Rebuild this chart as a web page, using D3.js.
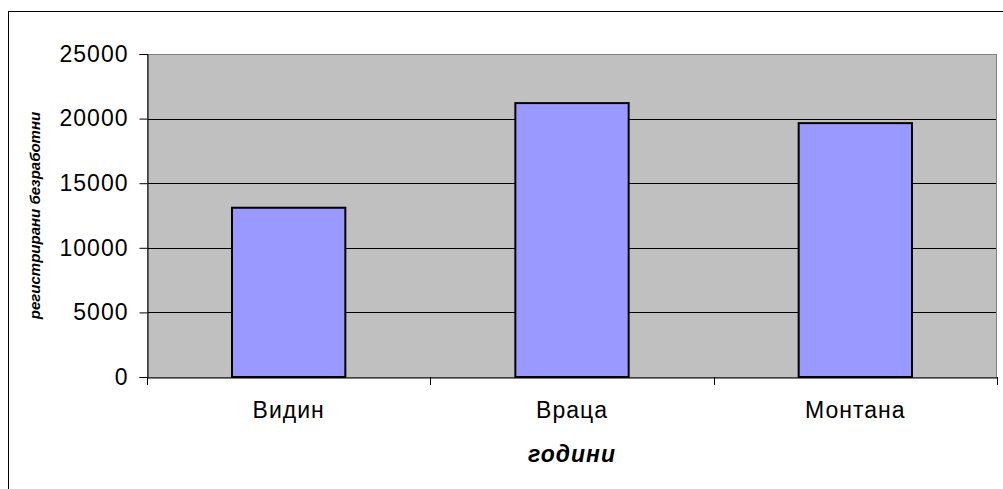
<!DOCTYPE html>
<html>
<head>
<meta charset="utf-8">
<script src="https://cdn.jsdelivr.net/npm/d3@7"></script>
<style>
  body { margin: 0; background: #fff; }
  text { font-family: "Liberation Sans", Arial, sans-serif; fill: #000; }
</style>
</head>
<body>
<div id="chart"></div>
<script>
const categories = ["Видин", "Враца", "Монтана"];
const values = [13100, 21200, 19650];
const yTicks = [0, 5000, 10000, 15000, 20000, 25000];

const w = 1003, h = 489;
const plot = { left: 147, right: 997, top: 54, bottom: 377 };

const svg = d3.select("#chart").append("svg")
  .attr("width", w)
  .attr("height", h);

// outer chart frame (right/bottom edges fall outside the picture)
svg.append("rect")
  .attr("x", 8.5).attr("y", 11.5)
  .attr("width", 1010).attr("height", 500)
  .attr("fill", "#fff").attr("stroke", "#000");

const x = d3.scaleBand()
  .domain(categories)
  .range([plot.left, plot.right])
  .paddingInner(0.6)
  .paddingOuter(0.3);

const y = d3.scaleLinear()
  .domain([0, 25000])
  .range([plot.bottom, plot.top]);

// plot background
svg.append("rect")
  .attr("x", plot.left).attr("y", plot.top)
  .attr("width", plot.right - plot.left)
  .attr("height", plot.bottom - plot.top)
  .attr("fill", "#c0c0c0");

// gridlines
svg.append("g").selectAll("line")
  .data(yTicks.filter(d => d > 0 && d < 25000))
  .enter().append("line")
  .attr("x1", plot.left).attr("x2", plot.right)
  .attr("y1", d => Math.round(y(d)) + 0.5)
  .attr("y2", d => Math.round(y(d)) + 0.5)
  .attr("stroke", "#000");

// plot border
svg.append("rect")
  .attr("x", plot.left + 0.5).attr("y", plot.top + 0.5)
  .attr("width", plot.right - plot.left - 1)
  .attr("height", plot.bottom - plot.top)
  .attr("fill", "none").attr("stroke", "#808080");

// bars
svg.append("g").selectAll("rect")
  .data(values)
  .enter().append("rect")
  .attr("x", (d, i) => x(categories[i]))
  .attr("y", d => y(d))
  .attr("width", x.bandwidth())
  .attr("height", d => plot.bottom - y(d))
  .attr("fill", "#9999ff")
  .attr("stroke", "#000")
  .attr("stroke-width", 2);

// y axis
const yAxis = d3.axisLeft(y)
  .tickValues(yTicks)
  .tickFormat(d3.format("d"))
  .tickSize(8)
  .tickPadding(11);

svg.append("g")
  .attr("transform", `translate(${plot.left + 0.5},0)`)
  .call(yAxis)
  .call(g => g.selectAll("text")
    .attr("font-family", "Liberation Sans, Arial, sans-serif")
    .style("font-size", "23px")
    .style("letter-spacing", "1px"))
  .call(g => g.selectAll("line, path").attr("stroke", "#000"));

// x axis: category labels, ticks at band edges
const xAxis = d3.axisBottom(x).tickSize(0).tickPadding(24);
svg.append("g")
  .attr("transform", `translate(0,${plot.bottom + 0.5})`)
  .call(xAxis)
  .call(g => g.select(".domain").attr("stroke", "#000"))
  .call(g => g.selectAll("text")
    .attr("font-family", "Liberation Sans, Arial, sans-serif")
    .style("font-size", "23px")
    .style("letter-spacing", "1px"));

const step = x.step();
const edges = d3.range(categories.length + 1).map(i => plot.left + i * step);
svg.append("g").selectAll("line")
  .data(edges)
  .enter().append("line")
  .attr("x1", d => Math.round(d) + 0.5).attr("x2", d => Math.round(d) + 0.5)
  .attr("y1", plot.bottom).attr("y2", plot.bottom + 8)
  .attr("stroke", "#000");

// axis titles
svg.append("text")
  .attr("x", (plot.left + plot.right) / 2)
  .attr("y", 462)
  .attr("text-anchor", "middle")
  .style("font-size", "23px")
  .style("letter-spacing", "1px")
  .style("font-weight", "bold")
  .style("font-style", "italic")
  .text("години");

svg.append("text")
  .attr("transform", `translate(40,${(plot.top + plot.bottom) / 2}) rotate(-90)`)
  .attr("text-anchor", "middle")
  .style("font-size", "15px")
  .style("font-weight", "bold")
  .style("font-style", "italic")
  .text("регистрирани безработни");
</script>
</body>
</html>
